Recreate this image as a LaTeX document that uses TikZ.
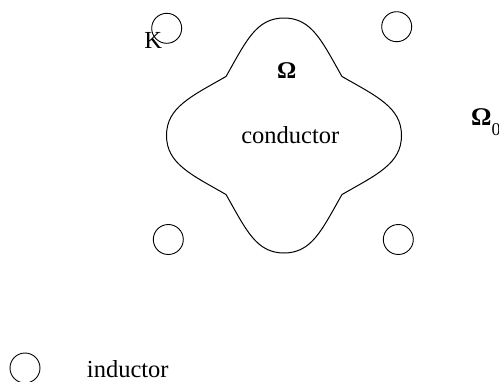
\documentclass[tikz,border=0pt]{standalone}
\usepackage{fontspec}
\setmainfont{Liberation Serif}
\begin{document}
\begin{tikzpicture}[x=1pt,y=-1pt,
  ind/.style={draw,circle,minimum size=30pt,inner sep=0pt,line width=0.9pt},
  lbl/.style={inner sep=0pt,anchor=base,font=\fontsize{24.5}{24.5}\selectfont}]
\useasboundingbox (0,0) rectangle (499,381);
% conductor
\begin{scope}[shift={(284,135.5)}]
\draw[line width=1pt] (-58,-59) .. controls (-38,-94) and (-28,-117.5) .. (0,-117.5)
  .. controls (28,-117.5) and (38,-94) .. (58,-59)
  .. controls (93,-39) and (117.5,-28) .. (117.5,0)
  .. controls (117.5,28) and (93,39) .. (58,59)
  .. controls (38,94) and (28,117.5) .. (0,117.5)
  .. controls (-28,117.5) and (-38,94) .. (-58,59)
  .. controls (-93,39) and (-117.5,28) .. (-117.5,0)
  .. controls (-117.5,-28) and (-93,-39) .. cycle;
\end{scope}
% inductors
\node[ind] (i1) at (166.7,28.3) {};
\node[ind] (i2) at (396.7,26.7) {};
\node[ind] (i3) at (168.3,239.5) {};
\node[ind] (i4) at (398.3,239.5) {};
\node[ind] (leg) at (25,368) {};
% labels
\node[lbl] (K) at (153.3,48.3) {K};
\node[lbl,font=\fontsize{24}{24}\selectfont\bfseries] (om) at (286.7,78.3) {Ω};
\node[lbl] (cond) at (290.3,143.3) {conductor};
\node[lbl,anchor=base west,font=\fontsize{25.5}{25.5}\selectfont\bfseries] (om0) at (471,125) {Ω\raisebox{-10pt}{\fontsize{18}{18}\selectfont\mdseries 0}};
\node[lbl] (indlbl) at (127.8,377) {inductor};
\end{tikzpicture}
\end{document}
